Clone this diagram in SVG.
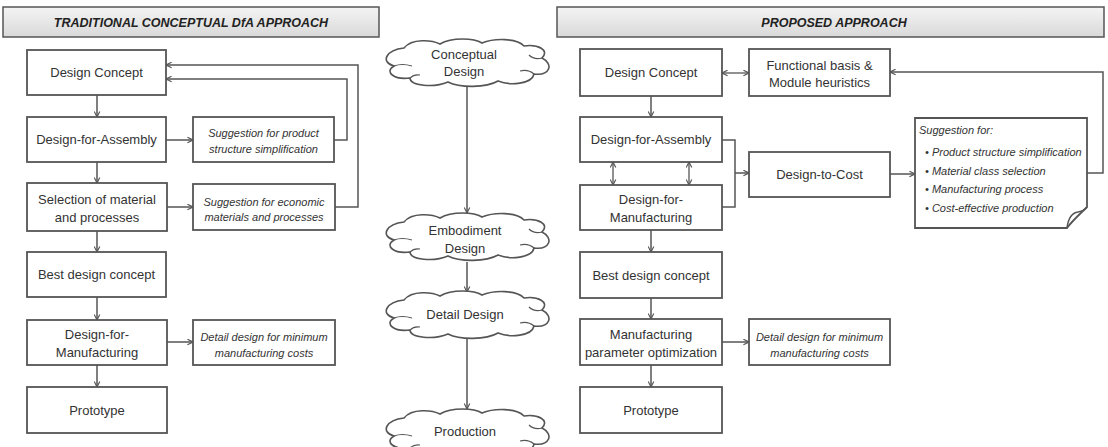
<svg xmlns="http://www.w3.org/2000/svg" xmlns:xlink="http://www.w3.org/1999/xlink" width="1108" height="447" viewBox="0 0 1108 447">
<style>
.box{fill:#fff;stroke:#555;stroke-width:1.8}
.hdr{fill:url(#hg);stroke:#555;stroke-width:1.5}
.t{font-family:"Liberation Sans",Arial,sans-serif;font-size:13px;fill:#333;text-anchor:middle}
.ti{font-family:"Liberation Sans",Arial,sans-serif;font-size:11px;font-style:italic;fill:#333;text-anchor:middle}
.tl{font-family:"Liberation Sans",Arial,sans-serif;font-size:11px;font-style:italic;fill:#333}
.th{font-family:"Liberation Sans",Arial,sans-serif;font-size:12.5px;font-weight:bold;font-style:italic;fill:#222;text-anchor:middle}
.c{fill:none;stroke:#555;stroke-width:1.5}
.ca{fill:none;stroke:#555;stroke-width:1.5;marker-end:url(#ah)}
.cb{fill:none;stroke:#555;stroke-width:1.3;marker-end:url(#ah);marker-start:url(#ah)}
.cl{fill:#fff;stroke:#555;stroke-width:1.6}
.cli{fill:none;stroke:#555;stroke-width:1.2}
</style>
<defs>
<linearGradient id="hg" x1="0" y1="0" x2="0" y2="1">
<stop offset="0" stop-color="#f4f4f4"/>
<stop offset="1" stop-color="#d9d9d9"/>
</linearGradient>
<marker id="ah" viewBox="0 0 10 10" refX="9" refY="5" markerWidth="7" markerHeight="7" markerUnits="userSpaceOnUse" orient="auto-start-reverse">
<path d="M1,1 L9,5 L1,9" fill="none" stroke="#555" stroke-width="1.6"/>
</marker>
<g id="cloud">
<path class="cl" d="M22,10 C30,0 50,2 58,6 C70,-1 92,0 100,5 C112,0 135,0 142,8 C156,6 168,12 160,20 C172,26 168,38 152,36 C150,46 128,48 116,43 C104,50 78,50 66,44 C52,50 28,48 28,40 C12,42 2,34 12,28 C-2,24 4,12 22,10 Z"/>
<path class="cli" d="M12,28 Q20,25 30,28 M160,20 Q152,22 147,17 M152,36 Q146,31 138,33 M28,40 Q32,36 38,37"/>
</g>
</defs>
<rect width="1108" height="447" fill="#fff"/>

<g id="header-left"><rect class="hdr" x="3" y="7" width="376" height="30"/><text class="th" x="191" y="27">TRADITIONAL CONCEPTUAL DfA APPROACH</text></g>
<g id="header-right"><rect class="hdr" x="557" y="7" width="547" height="30"/><text class="th" x="834" y="27">PROPOSED APPROACH</text></g>

<g id="connectors">
<!-- left column -->
<path class="ca" d="M97,95 V117"/>
<path class="ca" d="M97,162 V183"/>
<path class="ca" d="M97,231 V252"/>
<path class="ca" d="M97,297 V320"/>
<path class="ca" d="M97,365 V387"/>
<path class="ca" d="M166,140 H193"/>
<path class="ca" d="M167,207 H193"/>
<path class="ca" d="M167,342 H193"/>
<path class="ca" d="M334,140 H347 V79 H166"/>
<path class="ca" d="M335,207 H358 V65 H166"/>
<!-- center -->
<path class="ca" d="M467,87 V213"/>
<path class="ca" d="M467,262 V292"/>
<path class="ca" d="M467,337 V409"/>
<!-- right column -->
<path class="ca" d="M651,96 V117"/>
<path class="ca" d="M651,230 V252"/>
<path class="ca" d="M651,298 V319"/>
<path class="ca" d="M651,365 V387"/>
<path class="cb" d="M722,73 H749"/>
<path class="cb" d="M613,162 V185"/>
<path class="cb" d="M689,162 V185"/>
<path class="c" d="M722,140 H735 V207 H722"/>
<path class="ca" d="M735,173 H749"/>
<path class="ca" d="M890,174 H915"/>
<path class="ca" d="M1087,173 H1103 V72 H890"/>
<path class="ca" d="M722,342 H749"/>
</g>

<g id="l-design-concept"><rect class="box" x="27" y="50" width="139" height="45"/><text class="t" x="96.5" y="77">Design Concept</text></g>
<g id="l-dfa"><rect class="box" x="27" y="117" width="139" height="45"/><text class="t" x="96.5" y="144">Design-for-Assembly</text></g>
<g id="l-sug-product"><rect class="box" x="193" y="117" width="141" height="45"/><text class="ti" x="263.5" y="137">Suggestion for product</text><text class="ti" x="263.5" y="153">structure simplification</text></g>
<g id="l-selection"><rect class="box" x="27" y="183" width="140" height="48"/><text class="t" x="97" y="204">Selection of material</text><text class="t" x="97" y="222">and processes</text></g>
<g id="l-sug-economic"><rect class="box" x="193" y="184" width="142" height="46"/><text class="ti" x="264" y="206">Suggestion for economic</text><text class="ti" x="264" y="221">materials and processes</text></g>
<g id="l-best"><rect class="box" x="27" y="252" width="139" height="45"/><text class="t" x="96.5" y="279">Best design concept</text></g>
<g id="l-dfm"><rect class="box" x="27" y="320" width="140" height="45"/><text class="t" x="97" y="339">Design-for-</text><text class="t" x="97" y="357">Manufacturing</text></g>
<g id="l-detail"><rect class="box" x="193" y="320" width="142" height="45"/><text class="ti" x="264" y="341">Detail design for minimum</text><text class="ti" x="264" y="357">manufacturing costs</text></g>
<g id="l-prototype"><rect class="box" x="27" y="387" width="140" height="46"/><text class="t" x="97" y="415">Prototype</text></g>

<g id="c-conceptual"><use xlink:href="#cloud" href="#cloud" transform="translate(382,38)"/><text class="t" x="464" y="59">Conceptual</text><text class="t" x="464" y="76">Design</text></g>
<g id="c-embodiment"><use xlink:href="#cloud" href="#cloud" transform="translate(382,212)"/><text class="t" x="465" y="235">Embodiment</text><text class="t" x="465" y="253">Design</text></g>
<g id="c-detail"><use xlink:href="#cloud" href="#cloud" transform="translate(382,290)"/><text class="t" x="465" y="319">Detail Design</text></g>
<g id="c-production"><use xlink:href="#cloud" href="#cloud" transform="translate(382,408)"/><text class="t" x="465" y="436">Production</text></g>

<g id="r-design-concept"><rect class="box" x="580" y="49" width="142" height="47"/><text class="t" x="651" y="77">Design Concept</text></g>
<g id="r-functional"><rect class="box" x="749" y="49" width="141" height="47"/><text class="t" x="819.5" y="70">Functional basis &amp;</text><text class="t" x="819.5" y="87">Module heuristics</text></g>
<g id="r-dfa"><rect class="box" x="580" y="117" width="142" height="45"/><text class="t" x="651" y="144">Design-for-Assembly</text></g>
<g id="r-dfm"><rect class="box" x="580" y="185" width="142" height="45"/><text class="t" x="651" y="204">Design-for-</text><text class="t" x="651" y="222">Manufacturing</text></g>
<g id="r-dtc"><rect class="box" x="749" y="152" width="141" height="45"/><text class="t" x="819.5" y="179">Design-to-Cost</text></g>
<g id="r-suggestion">
<path class="box" d="M915,118 H1087 V207 C1080,214 1072,221 1067,228 H915 Z"/>
<path class="c" d="M1067,228 C1068,220 1071,213 1078,212 C1083,211 1086,209 1087,207"/>
<text class="tl" x="919" y="134">Suggestion for:</text>
<text class="tl" x="925" y="156">• Product structure simplification</text>
<text class="tl" x="925" y="175">• Material class selection</text>
<text class="tl" x="925" y="193">• Manufacturing process</text>
<text class="tl" x="925" y="212">• Cost-effective production</text>
</g>
<g id="r-best"><rect class="box" x="580" y="252" width="142" height="46"/><text class="t" x="651" y="280">Best design concept</text></g>
<g id="r-mpo"><rect class="box" x="580" y="319" width="142" height="46"/><text class="t" x="651" y="339">Manufacturing</text><text class="t" x="651" y="357">parameter optimization</text></g>
<g id="r-detail"><rect class="box" x="749" y="319" width="141" height="46"/><text class="ti" x="819.5" y="341">Detail design for minimum</text><text class="ti" x="819.5" y="357">manufacturing costs</text></g>
<g id="r-prototype"><rect class="box" x="580" y="387" width="142" height="46"/><text class="t" x="651" y="415">Prototype</text></g>
</svg>
